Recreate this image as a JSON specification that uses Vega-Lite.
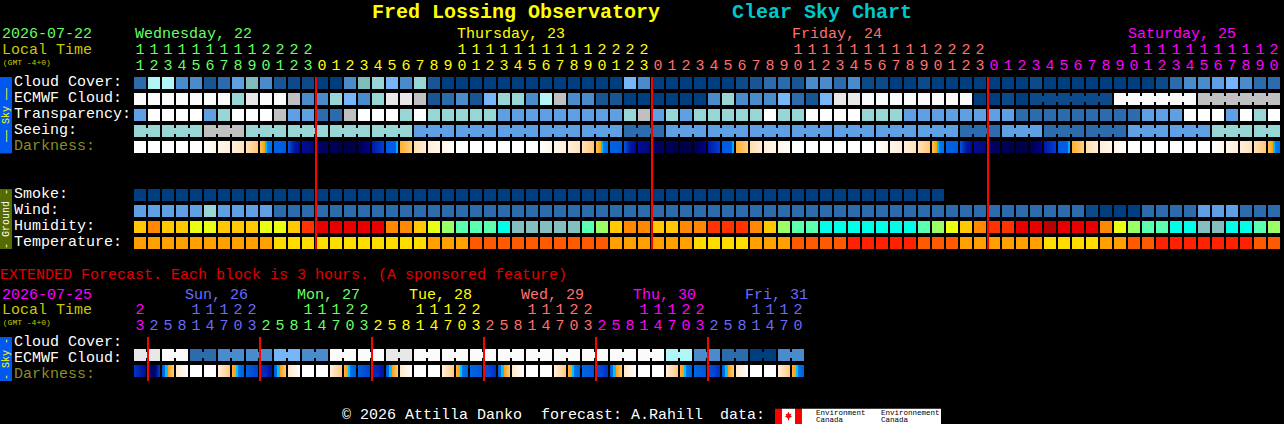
{"$schema":"https://vega.github.io/schema/vega-lite/v6.json","width":1284,"height":424,"padding":0,"autosize":"none","background":"#000000","view":{"stroke":null},
"datasets":{
"panels":[{"c":-10,"c2":-9.143,"l":4.625,"l2":9.4,"v":"sky"},{"c":-10,"c2":-9.143,"l":11.625,"l2":15.375,"v":"gnd"},{"c":-10,"c2":-9.143,"l":20.875,"l2":23.625,"v":"sky"},{"c":45.357,"c2":45.857,"l":25.36,"l2":26.3125,"v":"red"},{"c":45.857,"c2":46.786,"l":25.36,"l2":26.3125,"v":"W"},{"c":46.786,"c2":47.286,"l":25.36,"l2":26.3125,"v":"red"},{"c":47.286,"c2":57.214,"l":25.36,"l2":26.3125,"v":"W"}],
"rules":[{"c":12.5714,"l":4.625,"l2":15.375,"v":"red"},{"c":36.5714,"l":4.625,"l2":15.375,"v":"red"},{"c":60.5714,"l":4.625,"l2":15.375,"v":"red"},{"c":0.5714,"l":20.875,"l2":23.625,"v":"red"},{"c":8.5714,"l":20.875,"l2":23.625,"v":"red"},{"c":16.5714,"l":20.875,"l2":23.625,"v":"red"},{"c":24.5714,"l":20.875,"l2":23.625,"v":"red"},{"c":32.5714,"l":20.875,"l2":23.625,"v":"red"},{"c":40.5714,"l":20.875,"l2":23.625,"v":"red"}],
"blocks":[
{"c":0,"l":5,"v":"C"},{"c":1,"l":5,"v":"I"},{"c":2,"l":5,"v":"I"},{"c":3,"l":5,"v":"D"},{"c":4,"l":5,"v":"D"},{"c":5,"l":5,"v":"B"},{"c":6,"l":5,"v":"C"},{"c":7,"l":5,"v":"E"},{"c":8,"l":5,"v":"G"},{"c":9,"l":5,"v":"D"},{"c":10,"l":5,"v":"B"},{"c":11,"l":5,"v":"Z"},{"c":12,"l":5,"v":"Z"},{"c":13,"l":5,"v":"A"},{"c":14,"l":5,"v":"A"},{"c":15,"l":5,"v":"D"},{"c":16,"l":5,"v":"G"},{"c":17,"l":5,"v":"H"},{"c":18,"l":5,"v":"F"},{"c":19,"l":5,"v":"D"},{"c":20,"l":5,"v":"H"},{"c":21,"l":5,"v":"B"},{"c":22,"l":5,"v":"A"},{"c":23,"l":5,"v":"A"},{"c":24,"l":5,"v":"A"},{"c":25,"l":5,"v":"A"},{"c":26,"l":5,"v":"A"},{"c":27,"l":5,"v":"A"},{"c":28,"l":5,"v":"A"},{"c":29,"l":5,"v":"A"},{"c":30,"l":5,"v":"A"},{"c":31,"l":5,"v":"A"},{"c":32,"l":5,"v":"A"},{"c":33,"l":5,"v":"A"},{"c":34,"l":5,"v":"A"},{"c":35,"l":5,"v":"F"},{"c":36,"l":5,"v":"D"},{"c":37,"l":5,"v":"A"},{"c":38,"l":5,"v":"A"},{"c":39,"l":5,"v":"A"},{"c":40,"l":5,"v":"A"},{"c":41,"l":5,"v":"A"},{"c":42,"l":5,"v":"A"},{"c":43,"l":5,"v":"Z"},{"c":44,"l":5,"v":"B"},{"c":45,"l":5,"v":"C"},{"c":46,"l":5,"v":"C"},{"c":47,"l":5,"v":"B"},{"c":48,"l":5,"v":"D"},{"c":49,"l":5,"v":"D"},{"c":50,"l":5,"v":"C"},{"c":51,"l":5,"v":"D"},{"c":52,"l":5,"v":"Z"},{"c":53,"l":5,"v":"Z"},{"c":54,"l":5,"v":"A"},{"c":55,"l":5,"v":"A"},{"c":56,"l":5,"v":"Z"},{"c":57,"l":5,"v":"A"},{"c":58,"l":5,"v":"A"},{"c":59,"l":5,"v":"A"},{"c":60,"l":5,"v":"A"},{"c":61,"l":5,"v":"A"},{"c":62,"l":5,"v":"A"},{"c":63,"l":5,"v":"A"},{"c":64,"l":5,"v":"Z"},{"c":65,"l":5,"v":"A"},{"c":66,"l":5,"v":"A"},{"c":67,"l":5,"v":"A"},{"c":68,"l":5,"v":"A"},{"c":69,"l":5,"v":"A"},{"c":70,"l":5,"v":"A"},{"c":71,"l":5,"v":"A"},{"c":72,"l":5,"v":"A"},{"c":73,"l":5,"v":"Z"},{"c":74,"l":5,"v":"C"},{"c":75,"l":5,"v":"D"},{"c":76,"l":5,"v":"D"},{"c":77,"l":5,"v":"E"},{"c":78,"l":5,"v":"F"},{"c":79,"l":5,"v":"D"},{"c":80,"l":5,"v":"C"},{"c":81,"l":5,"v":"C"},
{"c":0,"l":6,"v":"w"},{"c":1,"l":6,"v":"w"},{"c":2,"l":6,"v":"w"},{"c":3,"l":6,"v":"w"},{"c":4,"l":6,"v":"w"},{"c":5,"l":6,"v":"w"},{"c":6,"l":6,"v":"w"},{"c":7,"l":6,"v":"H"},{"c":8,"l":6,"v":"K"},{"c":9,"l":6,"v":"w"},{"c":10,"l":6,"v":"w"},{"c":11,"l":6,"v":"J"},{"c":12,"l":6,"v":"D"},{"c":13,"l":6,"v":"D"},{"c":14,"l":6,"v":"H"},{"c":15,"l":6,"v":"F"},{"c":16,"l":6,"v":"D"},{"c":17,"l":6,"v":"H"},{"c":18,"l":6,"v":"K"},{"c":19,"l":6,"v":"K"},{"c":20,"l":6,"v":"J"},{"c":21,"l":6,"v":"B"},{"c":22,"l":6,"v":"C"},{"c":23,"l":6,"v":"D"},{"c":24,"l":6,"v":"B"},{"c":25,"l":6,"v":"F"},{"c":26,"l":6,"v":"H"},{"c":27,"l":6,"v":"H"},{"c":28,"l":6,"v":"D"},{"c":29,"l":6,"v":"I"},{"c":30,"l":6,"v":"J"},{"c":31,"l":6,"v":"D"},{"c":32,"l":6,"v":"D"},{"c":33,"l":6,"v":"B"},{"c":34,"l":6,"v":"B"},{"c":35,"l":6,"v":"A"},{"c":36,"l":6,"v":"A"},{"c":37,"l":6,"v":"A"},{"c":38,"l":6,"v":"A"},{"c":39,"l":6,"v":"A"},{"c":40,"l":6,"v":"A"},{"c":41,"l":6,"v":"D"},{"c":42,"l":6,"v":"H"},{"c":43,"l":6,"v":"D"},{"c":44,"l":6,"v":"D"},{"c":45,"l":6,"v":"D"},{"c":46,"l":6,"v":"F"},{"c":47,"l":6,"v":"C"},{"c":48,"l":6,"v":"B"},{"c":49,"l":6,"v":"F"},{"c":50,"l":6,"v":"K"},{"c":51,"l":6,"v":"K"},{"c":52,"l":6,"v":"w"},{"c":53,"l":6,"v":"w"},{"c":54,"l":6,"v":"w"},{"c":55,"l":6,"v":"w"},{"c":56,"l":6,"v":"w"},{"c":57,"l":6,"v":"w"},{"c":58,"l":6,"v":"w"},{"c":59,"l":6,"v":"w"},{"c":60,"l":6,"v":"A"},{"c":61,"l":6,"v":"A"},{"c":62,"l":6,"v":"Z"},{"c":63,"l":6,"v":"A"},{"c":64,"l":6,"v":"Z"},{"c":65,"l":6,"v":"Z"},{"c":66,"l":6,"v":"Z"},{"c":67,"l":6,"v":"Z"},{"c":68,"l":6,"v":"Z"},{"c":69,"l":6,"v":"Z"},{"c":70,"l":6,"v":"w"},{"c":71,"l":6,"v":"w"},{"c":72,"l":6,"v":"w"},{"c":73,"l":6,"v":"w"},{"c":74,"l":6,"v":"w"},{"c":75,"l":6,"v":"w"},{"c":76,"l":6,"v":"J"},{"c":77,"l":6,"v":"J"},{"c":78,"l":6,"v":"J"},{"c":79,"l":6,"v":"J"},{"c":80,"l":6,"v":"J"},{"c":81,"l":6,"v":"J"},
{"c":0,"l":7,"v":"E"},{"c":1,"l":7,"v":"W"},{"c":2,"l":7,"v":"W"},{"c":3,"l":7,"v":"W"},{"c":4,"l":7,"v":"W"},{"c":5,"l":7,"v":"E"},{"c":6,"l":7,"v":"H"},{"c":7,"l":7,"v":"W"},{"c":8,"l":7,"v":"W"},{"c":9,"l":7,"v":"W"},{"c":10,"l":7,"v":"J"},{"c":11,"l":7,"v":"E"},{"c":12,"l":7,"v":"E"},{"c":13,"l":7,"v":"C"},{"c":14,"l":7,"v":"C"},{"c":15,"l":7,"v":"J"},{"c":16,"l":7,"v":"W"},{"c":17,"l":7,"v":"W"},{"c":18,"l":7,"v":"W"},{"c":19,"l":7,"v":"H"},{"c":20,"l":7,"v":"W"},{"c":21,"l":7,"v":"H"},{"c":22,"l":7,"v":"H"},{"c":23,"l":7,"v":"H"},{"c":24,"l":7,"v":"H"},{"c":25,"l":7,"v":"H"},{"c":26,"l":7,"v":"E"},{"c":27,"l":7,"v":"E"},{"c":28,"l":7,"v":"E"},{"c":29,"l":7,"v":"E"},{"c":30,"l":7,"v":"E"},{"c":31,"l":7,"v":"E"},{"c":32,"l":7,"v":"E"},{"c":33,"l":7,"v":"E"},{"c":34,"l":7,"v":"E"},{"c":35,"l":7,"v":"H"},{"c":36,"l":7,"v":"J"},{"c":37,"l":7,"v":"E"},{"c":38,"l":7,"v":"H"},{"c":39,"l":7,"v":"E"},{"c":40,"l":7,"v":"H"},{"c":41,"l":7,"v":"H"},{"c":42,"l":7,"v":"H"},{"c":43,"l":7,"v":"H"},{"c":44,"l":7,"v":"H"},{"c":45,"l":7,"v":"W"},{"c":46,"l":7,"v":"H"},{"c":47,"l":7,"v":"H"},{"c":48,"l":7,"v":"W"},{"c":49,"l":7,"v":"W"},{"c":50,"l":7,"v":"W"},{"c":51,"l":7,"v":"W"},{"c":52,"l":7,"v":"H"},{"c":53,"l":7,"v":"H"},{"c":54,"l":7,"v":"H"},{"c":55,"l":7,"v":"E"},{"c":56,"l":7,"v":"E"},{"c":57,"l":7,"v":"E"},{"c":58,"l":7,"v":"E"},{"c":59,"l":7,"v":"E"},{"c":60,"l":7,"v":"E"},{"c":61,"l":7,"v":"E"},{"c":62,"l":7,"v":"E"},{"c":63,"l":7,"v":"C"},{"c":64,"l":7,"v":"C"},{"c":65,"l":7,"v":"C"},{"c":66,"l":7,"v":"C"},{"c":67,"l":7,"v":"C"},{"c":68,"l":7,"v":"C"},{"c":69,"l":7,"v":"C"},{"c":70,"l":7,"v":"C"},{"c":71,"l":7,"v":"C"},{"c":72,"l":7,"v":"E"},{"c":73,"l":7,"v":"E"},{"c":74,"l":7,"v":"E"},{"c":75,"l":7,"v":"W"},{"c":76,"l":7,"v":"W"},{"c":77,"l":7,"v":"W"},{"c":78,"l":7,"v":"E"},{"c":79,"l":7,"v":"W"},{"c":80,"l":7,"v":"H"},{"c":81,"l":7,"v":"W"},
{"c":0,"l":8,"v":"H"},{"c":1,"l":8,"v":"H"},{"c":2,"l":8,"v":"H"},{"c":3,"l":8,"v":"H"},{"c":4,"l":8,"v":"H"},{"c":5,"l":8,"v":"J"},{"c":6,"l":8,"v":"J"},{"c":7,"l":8,"v":"J"},{"c":8,"l":8,"v":"H"},{"c":9,"l":8,"v":"H"},{"c":10,"l":8,"v":"H"},{"c":11,"l":8,"v":"H"},{"c":12,"l":8,"v":"H"},{"c":13,"l":8,"v":"H"},{"c":14,"l":8,"v":"H"},{"c":15,"l":8,"v":"H"},{"c":16,"l":8,"v":"H"},{"c":17,"l":8,"v":"H"},{"c":18,"l":8,"v":"H"},{"c":19,"l":8,"v":"H"},{"c":20,"l":8,"v":"E"},{"c":21,"l":8,"v":"E"},{"c":22,"l":8,"v":"E"},{"c":23,"l":8,"v":"E"},{"c":24,"l":8,"v":"E"},{"c":25,"l":8,"v":"E"},{"c":26,"l":8,"v":"E"},{"c":27,"l":8,"v":"E"},{"c":28,"l":8,"v":"E"},{"c":29,"l":8,"v":"E"},{"c":30,"l":8,"v":"E"},{"c":31,"l":8,"v":"E"},{"c":32,"l":8,"v":"E"},{"c":33,"l":8,"v":"E"},{"c":34,"l":8,"v":"E"},{"c":35,"l":8,"v":"C"},{"c":36,"l":8,"v":"C"},{"c":37,"l":8,"v":"C"},{"c":38,"l":8,"v":"E"},{"c":39,"l":8,"v":"E"},{"c":40,"l":8,"v":"E"},{"c":41,"l":8,"v":"E"},{"c":42,"l":8,"v":"E"},{"c":43,"l":8,"v":"E"},{"c":44,"l":8,"v":"E"},{"c":45,"l":8,"v":"E"},{"c":46,"l":8,"v":"E"},{"c":47,"l":8,"v":"E"},{"c":48,"l":8,"v":"E"},{"c":49,"l":8,"v":"E"},{"c":50,"l":8,"v":"E"},{"c":51,"l":8,"v":"E"},{"c":52,"l":8,"v":"E"},{"c":53,"l":8,"v":"E"},{"c":54,"l":8,"v":"E"},{"c":55,"l":8,"v":"E"},{"c":56,"l":8,"v":"E"},{"c":57,"l":8,"v":"E"},{"c":58,"l":8,"v":"E"},{"c":59,"l":8,"v":"C"},{"c":60,"l":8,"v":"C"},{"c":61,"l":8,"v":"C"},{"c":62,"l":8,"v":"E"},{"c":63,"l":8,"v":"E"},{"c":64,"l":8,"v":"E"},{"c":65,"l":8,"v":"C"},{"c":66,"l":8,"v":"C"},{"c":67,"l":8,"v":"C"},{"c":68,"l":8,"v":"C"},{"c":69,"l":8,"v":"C"},{"c":70,"l":8,"v":"C"},{"c":71,"l":8,"v":"E"},{"c":72,"l":8,"v":"E"},{"c":73,"l":8,"v":"E"},{"c":74,"l":8,"v":"E"},{"c":75,"l":8,"v":"E"},{"c":76,"l":8,"v":"E"},{"c":77,"l":8,"v":"H"},{"c":78,"l":8,"v":"H"},{"c":79,"l":8,"v":"H"},{"c":80,"l":8,"v":"H"},{"c":81,"l":8,"v":"H"},
{"c":0,"l":9,"v":"W"},{"c":1,"l":9,"v":"W"},{"c":2,"l":9,"v":"W"},{"c":3,"l":9,"v":"W"},{"c":4,"l":9,"v":"W"},{"c":5,"l":9,"v":"d5"},{"c":6,"l":9,"v":"d6"},{"c":7,"l":9,"v":"d7"},{"c":8,"l":9,"v":"d8"},{"c":9,"l":9,"v":"d9"},{"c":10,"l":9,"v":"d10"},{"c":11,"l":9,"v":"d11"},{"c":12,"l":9,"v":"d12"},{"c":13,"l":9,"v":"d13"},{"c":14,"l":9,"v":"d14"},{"c":15,"l":9,"v":"d15"},{"c":16,"l":9,"v":"d16"},{"c":17,"l":9,"v":"d17"},{"c":18,"l":9,"v":"d18"},{"c":19,"l":9,"v":"d19"},{"c":20,"l":9,"v":"d20"},{"c":21,"l":9,"v":"d21"},{"c":22,"l":9,"v":"d22"},{"c":23,"l":9,"v":"W"},{"c":24,"l":9,"v":"W"},{"c":25,"l":9,"v":"W"},{"c":26,"l":9,"v":"W"},{"c":27,"l":9,"v":"W"},{"c":28,"l":9,"v":"W"},{"c":29,"l":9,"v":"d5"},{"c":30,"l":9,"v":"d6"},{"c":31,"l":9,"v":"d7"},{"c":32,"l":9,"v":"d8"},{"c":33,"l":9,"v":"d9"},{"c":34,"l":9,"v":"d10"},{"c":35,"l":9,"v":"d11"},{"c":36,"l":9,"v":"d12"},{"c":37,"l":9,"v":"d13"},{"c":38,"l":9,"v":"d14"},{"c":39,"l":9,"v":"d15"},{"c":40,"l":9,"v":"d16"},{"c":41,"l":9,"v":"d17"},{"c":42,"l":9,"v":"d18"},{"c":43,"l":9,"v":"d19"},{"c":44,"l":9,"v":"d20"},{"c":45,"l":9,"v":"d21"},{"c":46,"l":9,"v":"d22"},{"c":47,"l":9,"v":"W"},{"c":48,"l":9,"v":"W"},{"c":49,"l":9,"v":"W"},{"c":50,"l":9,"v":"W"},{"c":51,"l":9,"v":"W"},{"c":52,"l":9,"v":"W"},{"c":53,"l":9,"v":"d5"},{"c":54,"l":9,"v":"d6"},{"c":55,"l":9,"v":"d7"},{"c":56,"l":9,"v":"d8"},{"c":57,"l":9,"v":"d9"},{"c":58,"l":9,"v":"d10"},{"c":59,"l":9,"v":"d11"},{"c":60,"l":9,"v":"d12"},{"c":61,"l":9,"v":"d13"},{"c":62,"l":9,"v":"d14"},{"c":63,"l":9,"v":"d15"},{"c":64,"l":9,"v":"d16"},{"c":65,"l":9,"v":"d17"},{"c":66,"l":9,"v":"d18"},{"c":67,"l":9,"v":"d19"},{"c":68,"l":9,"v":"d20"},{"c":69,"l":9,"v":"d21"},{"c":70,"l":9,"v":"d22"},{"c":71,"l":9,"v":"W"},{"c":72,"l":9,"v":"W"},{"c":73,"l":9,"v":"W"},{"c":74,"l":9,"v":"W"},{"c":75,"l":9,"v":"W"},{"c":76,"l":9,"v":"W"},{"c":77,"l":9,"v":"d5"},{"c":78,"l":9,"v":"d6"},{"c":79,"l":9,"v":"d7"},{"c":80,"l":9,"v":"d8"},{"c":81,"l":9,"v":"d9"},
{"c":0,"l":12,"v":"A"},{"c":1,"l":12,"v":"A"},{"c":2,"l":12,"v":"A"},{"c":3,"l":12,"v":"A"},{"c":4,"l":12,"v":"A"},{"c":5,"l":12,"v":"A"},{"c":6,"l":12,"v":"A"},{"c":7,"l":12,"v":"A"},{"c":8,"l":12,"v":"A"},{"c":9,"l":12,"v":"A"},{"c":10,"l":12,"v":"A"},{"c":11,"l":12,"v":"A"},{"c":12,"l":12,"v":"A"},{"c":13,"l":12,"v":"A"},{"c":14,"l":12,"v":"A"},{"c":15,"l":12,"v":"A"},{"c":16,"l":12,"v":"A"},{"c":17,"l":12,"v":"A"},{"c":18,"l":12,"v":"A"},{"c":19,"l":12,"v":"A"},{"c":20,"l":12,"v":"A"},{"c":21,"l":12,"v":"A"},{"c":22,"l":12,"v":"A"},{"c":23,"l":12,"v":"A"},{"c":24,"l":12,"v":"A"},{"c":25,"l":12,"v":"A"},{"c":26,"l":12,"v":"A"},{"c":27,"l":12,"v":"A"},{"c":28,"l":12,"v":"A"},{"c":29,"l":12,"v":"A"},{"c":30,"l":12,"v":"A"},{"c":31,"l":12,"v":"A"},{"c":32,"l":12,"v":"A"},{"c":33,"l":12,"v":"A"},{"c":34,"l":12,"v":"A"},{"c":35,"l":12,"v":"A"},{"c":36,"l":12,"v":"A"},{"c":37,"l":12,"v":"A"},{"c":38,"l":12,"v":"A"},{"c":39,"l":12,"v":"A"},{"c":40,"l":12,"v":"A"},{"c":41,"l":12,"v":"A"},{"c":42,"l":12,"v":"A"},{"c":43,"l":12,"v":"A"},{"c":44,"l":12,"v":"A"},{"c":45,"l":12,"v":"A"},{"c":46,"l":12,"v":"A"},{"c":47,"l":12,"v":"A"},{"c":48,"l":12,"v":"A"},{"c":49,"l":12,"v":"A"},{"c":50,"l":12,"v":"A"},{"c":51,"l":12,"v":"A"},{"c":52,"l":12,"v":"A"},{"c":53,"l":12,"v":"A"},{"c":54,"l":12,"v":"A"},{"c":55,"l":12,"v":"A"},{"c":56,"l":12,"v":"A"},{"c":57,"l":12,"v":"A"},
{"c":0,"l":13,"v":"E"},{"c":1,"l":13,"v":"E"},{"c":2,"l":13,"v":"E"},{"c":3,"l":13,"v":"E"},{"c":4,"l":13,"v":"E"},{"c":5,"l":13,"v":"H"},{"c":6,"l":13,"v":"E"},{"c":7,"l":13,"v":"E"},{"c":8,"l":13,"v":"E"},{"c":9,"l":13,"v":"E"},{"c":10,"l":13,"v":"C"},{"c":11,"l":13,"v":"C"},{"c":12,"l":13,"v":"C"},{"c":13,"l":13,"v":"C"},{"c":14,"l":13,"v":"C"},{"c":15,"l":13,"v":"C"},{"c":16,"l":13,"v":"C"},{"c":17,"l":13,"v":"C"},{"c":18,"l":13,"v":"C"},{"c":19,"l":13,"v":"C"},{"c":20,"l":13,"v":"C"},{"c":21,"l":13,"v":"C"},{"c":22,"l":13,"v":"C"},{"c":23,"l":13,"v":"C"},{"c":24,"l":13,"v":"C"},{"c":25,"l":13,"v":"C"},{"c":26,"l":13,"v":"C"},{"c":27,"l":13,"v":"C"},{"c":28,"l":13,"v":"C"},{"c":29,"l":13,"v":"C"},{"c":30,"l":13,"v":"C"},{"c":31,"l":13,"v":"C"},{"c":32,"l":13,"v":"C"},{"c":33,"l":13,"v":"C"},{"c":34,"l":13,"v":"C"},{"c":35,"l":13,"v":"C"},{"c":36,"l":13,"v":"C"},{"c":37,"l":13,"v":"C"},{"c":38,"l":13,"v":"C"},{"c":39,"l":13,"v":"C"},{"c":40,"l":13,"v":"C"},{"c":41,"l":13,"v":"C"},{"c":42,"l":13,"v":"C"},{"c":43,"l":13,"v":"C"},{"c":44,"l":13,"v":"C"},{"c":45,"l":13,"v":"C"},{"c":46,"l":13,"v":"C"},{"c":47,"l":13,"v":"C"},{"c":48,"l":13,"v":"C"},{"c":49,"l":13,"v":"C"},{"c":50,"l":13,"v":"C"},{"c":51,"l":13,"v":"C"},{"c":52,"l":13,"v":"C"},{"c":53,"l":13,"v":"C"},{"c":54,"l":13,"v":"C"},{"c":55,"l":13,"v":"C"},{"c":56,"l":13,"v":"C"},{"c":57,"l":13,"v":"C"},{"c":58,"l":13,"v":"C"},{"c":59,"l":13,"v":"C"},{"c":60,"l":13,"v":"C"},{"c":61,"l":13,"v":"C"},{"c":62,"l":13,"v":"C"},{"c":63,"l":13,"v":"C"},{"c":64,"l":13,"v":"C"},{"c":65,"l":13,"v":"C"},{"c":66,"l":13,"v":"C"},{"c":67,"l":13,"v":"C"},{"c":68,"l":13,"v":"Z"},{"c":69,"l":13,"v":"A"},{"c":70,"l":13,"v":"A"},{"c":71,"l":13,"v":"A"},{"c":72,"l":13,"v":"C"},{"c":73,"l":13,"v":"C"},{"c":74,"l":13,"v":"C"},{"c":75,"l":13,"v":"C"},{"c":76,"l":13,"v":"E"},{"c":77,"l":13,"v":"E"},{"c":78,"l":13,"v":"E"},{"c":79,"l":13,"v":"C"},{"c":80,"l":13,"v":"C"},{"c":81,"l":13,"v":"C"},
{"c":0,"l":14,"v":"hY"},{"c":1,"l":14,"v":"hO"},{"c":2,"l":14,"v":"hY"},{"c":3,"l":14,"v":"hY"},{"c":4,"l":14,"v":"hL"},{"c":5,"l":14,"v":"hL"},{"c":6,"l":14,"v":"hY"},{"c":7,"l":14,"v":"hY"},{"c":8,"l":14,"v":"hY"},{"c":9,"l":14,"v":"hL"},{"c":10,"l":14,"v":"hL"},{"c":11,"l":14,"v":"hY"},{"c":12,"l":14,"v":"h3"},{"c":13,"l":14,"v":"h2"},{"c":14,"l":14,"v":"h2"},{"c":15,"l":14,"v":"h2"},{"c":16,"l":14,"v":"h2"},{"c":17,"l":14,"v":"h2"},{"c":18,"l":14,"v":"hO"},{"c":19,"l":14,"v":"hO"},{"c":20,"l":14,"v":"hY"},{"c":21,"l":14,"v":"hL"},{"c":22,"l":14,"v":"hG"},{"c":23,"l":14,"v":"hT"},{"c":24,"l":14,"v":"hT"},{"c":25,"l":14,"v":"hT"},{"c":26,"l":14,"v":"hN"},{"c":27,"l":14,"v":"hX"},{"c":28,"l":14,"v":"hX"},{"c":29,"l":14,"v":"hX"},{"c":30,"l":14,"v":"hX"},{"c":31,"l":14,"v":"hX"},{"c":32,"l":14,"v":"hT"},{"c":33,"l":14,"v":"hG"},{"c":34,"l":14,"v":"hY"},{"c":35,"l":14,"v":"hO"},{"c":36,"l":14,"v":"hO"},{"c":37,"l":14,"v":"hY"},{"c":38,"l":14,"v":"hY"},{"c":39,"l":14,"v":"hO"},{"c":40,"l":14,"v":"hO"},{"c":41,"l":14,"v":"h3"},{"c":42,"l":14,"v":"h3"},{"c":43,"l":14,"v":"h3"},{"c":44,"l":14,"v":"hO"},{"c":45,"l":14,"v":"hY"},{"c":46,"l":14,"v":"hG"},{"c":47,"l":14,"v":"hT"},{"c":48,"l":14,"v":"hT"},{"c":49,"l":14,"v":"hN"},{"c":50,"l":14,"v":"hN"},{"c":51,"l":14,"v":"hN"},{"c":52,"l":14,"v":"hN"},{"c":53,"l":14,"v":"hN"},{"c":54,"l":14,"v":"hN"},{"c":55,"l":14,"v":"hN"},{"c":56,"l":14,"v":"hT"},{"c":57,"l":14,"v":"hG"},{"c":58,"l":14,"v":"hL"},{"c":59,"l":14,"v":"hY"},{"c":60,"l":14,"v":"hO"},{"c":61,"l":14,"v":"h3"},{"c":62,"l":14,"v":"h3"},{"c":63,"l":14,"v":"h2"},{"c":64,"l":14,"v":"h2"},{"c":65,"l":14,"v":"h1"},{"c":66,"l":14,"v":"h2"},{"c":67,"l":14,"v":"h2"},{"c":68,"l":14,"v":"h2"},{"c":69,"l":14,"v":"hO"},{"c":70,"l":14,"v":"hL"},{"c":71,"l":14,"v":"hG"},{"c":72,"l":14,"v":"hT"},{"c":73,"l":14,"v":"hT"},{"c":74,"l":14,"v":"hN"},{"c":75,"l":14,"v":"hN"},{"c":76,"l":14,"v":"hX"},{"c":77,"l":14,"v":"hX"},{"c":78,"l":14,"v":"hN"},{"c":79,"l":14,"v":"hN"},{"c":80,"l":14,"v":"hT"},{"c":81,"l":14,"v":"hG"},
{"c":0,"l":15,"v":"tO"},{"c":1,"l":15,"v":"tO"},{"c":2,"l":15,"v":"tO"},{"c":3,"l":15,"v":"tO"},{"c":4,"l":15,"v":"tO"},{"c":5,"l":15,"v":"tO"},{"c":6,"l":15,"v":"tO"},{"c":7,"l":15,"v":"tO"},{"c":8,"l":15,"v":"tO"},{"c":9,"l":15,"v":"tO"},{"c":10,"l":15,"v":"tY"},{"c":11,"l":15,"v":"tY"},{"c":12,"l":15,"v":"tY"},{"c":13,"l":15,"v":"tY"},{"c":14,"l":15,"v":"tY"},{"c":15,"l":15,"v":"tY"},{"c":16,"l":15,"v":"tY"},{"c":17,"l":15,"v":"tY"},{"c":18,"l":15,"v":"tY"},{"c":19,"l":15,"v":"tY"},{"c":20,"l":15,"v":"tY"},{"c":21,"l":15,"v":"tO"},{"c":22,"l":15,"v":"tO"},{"c":23,"l":15,"v":"tO"},{"c":24,"l":15,"v":"tD"},{"c":25,"l":15,"v":"tD"},{"c":26,"l":15,"v":"tD"},{"c":27,"l":15,"v":"tD"},{"c":28,"l":15,"v":"tD"},{"c":29,"l":15,"v":"tD"},{"c":30,"l":15,"v":"tD"},{"c":31,"l":15,"v":"tD"},{"c":32,"l":15,"v":"tD"},{"c":33,"l":15,"v":"tD"},{"c":34,"l":15,"v":"tO"},{"c":35,"l":15,"v":"tO"},{"c":36,"l":15,"v":"tO"},{"c":37,"l":15,"v":"tO"},{"c":38,"l":15,"v":"tO"},{"c":39,"l":15,"v":"tO"},{"c":40,"l":15,"v":"tY"},{"c":41,"l":15,"v":"tY"},{"c":42,"l":15,"v":"tY"},{"c":43,"l":15,"v":"tY"},{"c":44,"l":15,"v":"tO"},{"c":45,"l":15,"v":"tO"},{"c":46,"l":15,"v":"tO"},{"c":47,"l":15,"v":"tD"},{"c":48,"l":15,"v":"tD"},{"c":49,"l":15,"v":"tD"},{"c":50,"l":15,"v":"tD"},{"c":51,"l":15,"v":"tR"},{"c":52,"l":15,"v":"tR"},{"c":53,"l":15,"v":"tR"},{"c":54,"l":15,"v":"tR"},{"c":55,"l":15,"v":"tR"},{"c":56,"l":15,"v":"tD"},{"c":57,"l":15,"v":"tD"},{"c":58,"l":15,"v":"tD"},{"c":59,"l":15,"v":"tO"},{"c":60,"l":15,"v":"tO"},{"c":61,"l":15,"v":"tO"},{"c":62,"l":15,"v":"tO"},{"c":63,"l":15,"v":"tO"},{"c":64,"l":15,"v":"tO"},{"c":65,"l":15,"v":"tY"},{"c":66,"l":15,"v":"tY"},{"c":67,"l":15,"v":"tY"},{"c":68,"l":15,"v":"tY"},{"c":69,"l":15,"v":"tO"},{"c":70,"l":15,"v":"tO"},{"c":71,"l":15,"v":"tD"},{"c":72,"l":15,"v":"tD"},{"c":73,"l":15,"v":"tR"},{"c":74,"l":15,"v":"tR"},{"c":75,"l":15,"v":"tR"},{"c":76,"l":15,"v":"tR"},{"c":77,"l":15,"v":"tR"},{"c":78,"l":15,"v":"tR"},{"c":79,"l":15,"v":"tR"},{"c":80,"l":15,"v":"tD"},{"c":81,"l":15,"v":"tD"},
{"c":0,"l":22,"v":"K"},{"c":1,"l":22,"v":"K"},{"c":2,"l":22,"v":"w"},{"c":3,"l":22,"v":"w"},{"c":4,"l":22,"v":"C"},{"c":5,"l":22,"v":"C"},{"c":6,"l":22,"v":"D"},{"c":7,"l":22,"v":"D"},{"c":8,"l":22,"v":"D"},{"c":9,"l":22,"v":"D"},{"c":10,"l":22,"v":"F"},{"c":11,"l":22,"v":"F"},{"c":12,"l":22,"v":"D"},{"c":13,"l":22,"v":"D"},{"c":14,"l":22,"v":"w"},{"c":15,"l":22,"v":"w"},{"c":16,"l":22,"v":"w"},{"c":17,"l":22,"v":"w"},{"c":18,"l":22,"v":"K"},{"c":19,"l":22,"v":"K"},{"c":20,"l":22,"v":"w"},{"c":21,"l":22,"v":"w"},{"c":22,"l":22,"v":"w"},{"c":23,"l":22,"v":"w"},{"c":24,"l":22,"v":"w"},{"c":25,"l":22,"v":"w"},{"c":26,"l":22,"v":"w"},{"c":27,"l":22,"v":"w"},{"c":28,"l":22,"v":"w"},{"c":29,"l":22,"v":"w"},{"c":30,"l":22,"v":"w"},{"c":31,"l":22,"v":"w"},{"c":32,"l":22,"v":"w"},{"c":33,"l":22,"v":"w"},{"c":34,"l":22,"v":"w"},{"c":35,"l":22,"v":"w"},{"c":36,"l":22,"v":"w"},{"c":37,"l":22,"v":"w"},{"c":38,"l":22,"v":"I"},{"c":39,"l":22,"v":"I"},{"c":40,"l":22,"v":"D"},{"c":41,"l":22,"v":"D"},{"c":42,"l":22,"v":"C"},{"c":43,"l":22,"v":"C"},{"c":44,"l":22,"v":"A"},{"c":45,"l":22,"v":"A"},{"c":46,"l":22,"v":"D"},{"c":47,"l":22,"v":"D"},
{"c":0,"l":23,"v":"e0"},{"c":1,"l":23,"v":"e1"},{"c":2,"l":23,"v":"e2"},{"c":3,"l":23,"v":"e3"},{"c":4,"l":23,"v":"W"},{"c":5,"l":23,"v":"W"},{"c":6,"l":23,"v":"e6"},{"c":7,"l":23,"v":"e7"},{"c":8,"l":23,"v":"e8"},{"c":9,"l":23,"v":"e9"},{"c":10,"l":23,"v":"e2"},{"c":11,"l":23,"v":"e3"},{"c":12,"l":23,"v":"W"},{"c":13,"l":23,"v":"W"},{"c":14,"l":23,"v":"e6"},{"c":15,"l":23,"v":"e7"},{"c":16,"l":23,"v":"e8"},{"c":17,"l":23,"v":"e9"},{"c":18,"l":23,"v":"e2"},{"c":19,"l":23,"v":"e3"},{"c":20,"l":23,"v":"W"},{"c":21,"l":23,"v":"W"},{"c":22,"l":23,"v":"e6"},{"c":23,"l":23,"v":"e7"},{"c":24,"l":23,"v":"e24"},{"c":25,"l":23,"v":"e25"},{"c":26,"l":23,"v":"e2"},{"c":27,"l":23,"v":"e3"},{"c":28,"l":23,"v":"W"},{"c":29,"l":23,"v":"W"},{"c":30,"l":23,"v":"e6"},{"c":31,"l":23,"v":"e7"},{"c":32,"l":23,"v":"e24"},{"c":33,"l":23,"v":"e25"},{"c":34,"l":23,"v":"e2"},{"c":35,"l":23,"v":"e3"},{"c":36,"l":23,"v":"W"},{"c":37,"l":23,"v":"W"},{"c":38,"l":23,"v":"e6"},{"c":39,"l":23,"v":"e7"},{"c":40,"l":23,"v":"e24"},{"c":41,"l":23,"v":"e25"},{"c":42,"l":23,"v":"e2"},{"c":43,"l":23,"v":"e3"},{"c":44,"l":23,"v":"W"},{"c":45,"l":23,"v":"W"},{"c":46,"l":23,"v":"e6"},{"c":47,"l":23,"v":"e7"}
],
"joins":[
{"c":0.5,"l":8,"v":"H"},{"c":2.5,"l":8,"v":"H"},{"c":3.5,"l":8,"v":"H"},{"c":5.5,"l":8,"v":"J"},{"c":6.5,"l":8,"v":"J"},{"c":8.5,"l":8,"v":"H"},{"c":9.5,"l":8,"v":"H"},{"c":11.5,"l":8,"v":"H"},{"c":12.5,"l":8,"v":"H"},{"c":14.5,"l":8,"v":"H"},{"c":15.5,"l":8,"v":"H"},{"c":17.5,"l":8,"v":"H"},{"c":18.5,"l":8,"v":"H"},{"c":20.5,"l":8,"v":"E"},{"c":21.5,"l":8,"v":"E"},{"c":23.5,"l":8,"v":"E"},{"c":24.5,"l":8,"v":"E"},{"c":26.5,"l":8,"v":"E"},{"c":27.5,"l":8,"v":"E"},{"c":29.5,"l":8,"v":"E"},{"c":30.5,"l":8,"v":"E"},{"c":32.5,"l":8,"v":"E"},{"c":33.5,"l":8,"v":"E"},{"c":35.5,"l":8,"v":"C"},{"c":36.5,"l":8,"v":"C"},{"c":38.5,"l":8,"v":"E"},{"c":39.5,"l":8,"v":"E"},{"c":41.5,"l":8,"v":"E"},{"c":42.5,"l":8,"v":"E"},{"c":44.5,"l":8,"v":"E"},{"c":45.5,"l":8,"v":"E"},{"c":47.5,"l":8,"v":"E"},{"c":48.5,"l":8,"v":"E"},{"c":50.5,"l":8,"v":"E"},{"c":51.5,"l":8,"v":"E"},{"c":53.5,"l":8,"v":"E"},{"c":54.5,"l":8,"v":"E"},{"c":56.5,"l":8,"v":"E"},{"c":57.5,"l":8,"v":"E"},{"c":59.5,"l":8,"v":"C"},{"c":60.5,"l":8,"v":"C"},{"c":62.5,"l":8,"v":"E"},{"c":63.5,"l":8,"v":"E"},{"c":65.5,"l":8,"v":"C"},{"c":66.5,"l":8,"v":"C"},{"c":68.5,"l":8,"v":"C"},{"c":69.5,"l":8,"v":"C"},{"c":71.5,"l":8,"v":"E"},{"c":72.5,"l":8,"v":"E"},{"c":74.5,"l":8,"v":"E"},{"c":75.5,"l":8,"v":"E"},{"c":77.5,"l":8,"v":"H"},{"c":78.5,"l":8,"v":"H"},{"c":80.5,"l":8,"v":"H"},
{"c":64.5,"l":6,"v":"Z"},{"c":65.5,"l":6,"v":"Z"},{"c":66.5,"l":6,"v":"Z"},{"c":67.5,"l":6,"v":"Z"},{"c":68.5,"l":6,"v":"Z"},{"c":70.5,"l":6,"v":"w"},{"c":71.5,"l":6,"v":"w"},{"c":72.5,"l":6,"v":"w"},{"c":73.5,"l":6,"v":"w"},{"c":74.5,"l":6,"v":"w"},{"c":76.5,"l":6,"v":"J"},{"c":77.5,"l":6,"v":"J"},{"c":78.5,"l":6,"v":"J"},{"c":79.5,"l":6,"v":"J"},{"c":80.5,"l":6,"v":"J"},
{"c":0.5,"l":22,"v":"K"},{"c":2.5,"l":22,"v":"w"},{"c":4.5,"l":22,"v":"C"},{"c":6.5,"l":22,"v":"D"},{"c":8.5,"l":22,"v":"D"},{"c":10.5,"l":22,"v":"F"},{"c":12.5,"l":22,"v":"D"},{"c":14.5,"l":22,"v":"w"},{"c":16.5,"l":22,"v":"w"},{"c":18.5,"l":22,"v":"K"},{"c":20.5,"l":22,"v":"w"},{"c":22.5,"l":22,"v":"w"},{"c":24.5,"l":22,"v":"w"},{"c":26.5,"l":22,"v":"w"},{"c":28.5,"l":22,"v":"w"},{"c":30.5,"l":22,"v":"w"},{"c":32.5,"l":22,"v":"w"},{"c":34.5,"l":22,"v":"w"},{"c":36.5,"l":22,"v":"w"},{"c":38.5,"l":22,"v":"I"},{"c":40.5,"l":22,"v":"D"},{"c":42.5,"l":22,"v":"C"},{"c":44.5,"l":22,"v":"A"},{"c":46.5,"l":22,"v":"D"}
],
"digits":[
{"c":0,"l":3.88,"t":"1","v":"gr"},{"c":1,"l":3.88,"t":"2","v":"gr"},{"c":2,"l":3.88,"t":"3","v":"gr"},{"c":3,"l":3.88,"t":"4","v":"gr"},{"c":4,"l":3.88,"t":"5","v":"gr"},{"c":5,"l":3.88,"t":"6","v":"gr"},{"c":6,"l":3.88,"t":"7","v":"gr"},{"c":7,"l":3.88,"t":"8","v":"gr"},{"c":8,"l":3.88,"t":"9","v":"gr"},{"c":9,"l":3.88,"t":"0","v":"gr"},{"c":10,"l":3.88,"t":"1","v":"gr"},{"c":11,"l":3.88,"t":"2","v":"gr"},{"c":12,"l":3.88,"t":"3","v":"gr"},
{"c":13,"l":3.88,"t":"0","v":"ye"},{"c":14,"l":3.88,"t":"1","v":"ye"},{"c":15,"l":3.88,"t":"2","v":"ye"},{"c":16,"l":3.88,"t":"3","v":"ye"},{"c":17,"l":3.88,"t":"4","v":"ye"},{"c":18,"l":3.88,"t":"5","v":"ye"},{"c":19,"l":3.88,"t":"6","v":"ye"},{"c":20,"l":3.88,"t":"7","v":"ye"},{"c":21,"l":3.88,"t":"8","v":"ye"},{"c":22,"l":3.88,"t":"9","v":"ye"},{"c":23,"l":3.88,"t":"0","v":"ye"},{"c":24,"l":3.88,"t":"1","v":"ye"},{"c":25,"l":3.88,"t":"2","v":"ye"},{"c":26,"l":3.88,"t":"3","v":"ye"},{"c":27,"l":3.88,"t":"4","v":"ye"},{"c":28,"l":3.88,"t":"5","v":"ye"},{"c":29,"l":3.88,"t":"6","v":"ye"},{"c":30,"l":3.88,"t":"7","v":"ye"},{"c":31,"l":3.88,"t":"8","v":"ye"},{"c":32,"l":3.88,"t":"9","v":"ye"},{"c":33,"l":3.88,"t":"0","v":"ye"},{"c":34,"l":3.88,"t":"1","v":"ye"},{"c":35,"l":3.88,"t":"2","v":"ye"},{"c":36,"l":3.88,"t":"3","v":"ye"},
{"c":37,"l":3.88,"t":"0","v":"sa"},{"c":38,"l":3.88,"t":"1","v":"sa"},{"c":39,"l":3.88,"t":"2","v":"sa"},{"c":40,"l":3.88,"t":"3","v":"sa"},{"c":41,"l":3.88,"t":"4","v":"sa"},{"c":42,"l":3.88,"t":"5","v":"sa"},{"c":43,"l":3.88,"t":"6","v":"sa"},{"c":44,"l":3.88,"t":"7","v":"sa"},{"c":45,"l":3.88,"t":"8","v":"sa"},{"c":46,"l":3.88,"t":"9","v":"sa"},{"c":47,"l":3.88,"t":"0","v":"sa"},{"c":48,"l":3.88,"t":"1","v":"sa"},{"c":49,"l":3.88,"t":"2","v":"sa"},{"c":50,"l":3.88,"t":"3","v":"sa"},{"c":51,"l":3.88,"t":"4","v":"sa"},{"c":52,"l":3.88,"t":"5","v":"sa"},{"c":53,"l":3.88,"t":"6","v":"sa"},{"c":54,"l":3.88,"t":"7","v":"sa"},{"c":55,"l":3.88,"t":"8","v":"sa"},{"c":56,"l":3.88,"t":"9","v":"sa"},{"c":57,"l":3.88,"t":"0","v":"sa"},{"c":58,"l":3.88,"t":"1","v":"sa"},{"c":59,"l":3.88,"t":"2","v":"sa"},{"c":60,"l":3.88,"t":"3","v":"sa"},
{"c":61,"l":3.88,"t":"0","v":"ma"},{"c":62,"l":3.88,"t":"1","v":"ma"},{"c":63,"l":3.88,"t":"2","v":"ma"},{"c":64,"l":3.88,"t":"3","v":"ma"},{"c":65,"l":3.88,"t":"4","v":"ma"},{"c":66,"l":3.88,"t":"5","v":"ma"},{"c":67,"l":3.88,"t":"6","v":"ma"},{"c":68,"l":3.88,"t":"7","v":"ma"},{"c":69,"l":3.88,"t":"8","v":"ma"},{"c":70,"l":3.88,"t":"9","v":"ma"},{"c":71,"l":3.88,"t":"0","v":"ma"},{"c":72,"l":3.88,"t":"1","v":"ma"},{"c":73,"l":3.88,"t":"2","v":"ma"},{"c":74,"l":3.88,"t":"3","v":"ma"},{"c":75,"l":3.88,"t":"4","v":"ma"},{"c":76,"l":3.88,"t":"5","v":"ma"},{"c":77,"l":3.88,"t":"6","v":"ma"},{"c":78,"l":3.88,"t":"7","v":"ma"},{"c":79,"l":3.88,"t":"8","v":"ma"},{"c":80,"l":3.88,"t":"9","v":"ma"},{"c":81,"l":3.88,"t":"0","v":"ma"},
{"c":0,"l":2.88,"t":"1","v":"gr"},{"c":1,"l":2.88,"t":"1","v":"gr"},{"c":2,"l":2.88,"t":"1","v":"gr"},{"c":3,"l":2.88,"t":"1","v":"gr"},{"c":4,"l":2.88,"t":"1","v":"gr"},{"c":5,"l":2.88,"t":"1","v":"gr"},{"c":6,"l":2.88,"t":"1","v":"gr"},{"c":7,"l":2.88,"t":"1","v":"gr"},{"c":8,"l":2.88,"t":"1","v":"gr"},{"c":9,"l":2.88,"t":"2","v":"gr"},{"c":10,"l":2.88,"t":"2","v":"gr"},{"c":11,"l":2.88,"t":"2","v":"gr"},{"c":12,"l":2.88,"t":"2","v":"gr"},
{"c":23,"l":2.88,"t":"1","v":"ye"},{"c":24,"l":2.88,"t":"1","v":"ye"},{"c":25,"l":2.88,"t":"1","v":"ye"},{"c":26,"l":2.88,"t":"1","v":"ye"},{"c":27,"l":2.88,"t":"1","v":"ye"},{"c":28,"l":2.88,"t":"1","v":"ye"},{"c":29,"l":2.88,"t":"1","v":"ye"},{"c":30,"l":2.88,"t":"1","v":"ye"},{"c":31,"l":2.88,"t":"1","v":"ye"},{"c":32,"l":2.88,"t":"1","v":"ye"},{"c":33,"l":2.88,"t":"2","v":"ye"},{"c":34,"l":2.88,"t":"2","v":"ye"},{"c":35,"l":2.88,"t":"2","v":"ye"},{"c":36,"l":2.88,"t":"2","v":"ye"},
{"c":47,"l":2.88,"t":"1","v":"sa"},{"c":48,"l":2.88,"t":"1","v":"sa"},{"c":49,"l":2.88,"t":"1","v":"sa"},{"c":50,"l":2.88,"t":"1","v":"sa"},{"c":51,"l":2.88,"t":"1","v":"sa"},{"c":52,"l":2.88,"t":"1","v":"sa"},{"c":53,"l":2.88,"t":"1","v":"sa"},{"c":54,"l":2.88,"t":"1","v":"sa"},{"c":55,"l":2.88,"t":"1","v":"sa"},{"c":56,"l":2.88,"t":"1","v":"sa"},{"c":57,"l":2.88,"t":"2","v":"sa"},{"c":58,"l":2.88,"t":"2","v":"sa"},{"c":59,"l":2.88,"t":"2","v":"sa"},{"c":60,"l":2.88,"t":"2","v":"sa"},
{"c":71,"l":2.88,"t":"1","v":"ma"},{"c":72,"l":2.88,"t":"1","v":"ma"},{"c":73,"l":2.88,"t":"1","v":"ma"},{"c":74,"l":2.88,"t":"1","v":"ma"},{"c":75,"l":2.88,"t":"1","v":"ma"},{"c":76,"l":2.88,"t":"1","v":"ma"},{"c":77,"l":2.88,"t":"1","v":"ma"},{"c":78,"l":2.88,"t":"1","v":"ma"},{"c":79,"l":2.88,"t":"1","v":"ma"},{"c":80,"l":2.88,"t":"1","v":"ma"},{"c":81,"l":2.88,"t":"2","v":"ma"},
{"c":0,"l":20.13,"t":"3","v":"ma"},{"c":1,"l":20.13,"t":"2","v":"vi"},{"c":2,"l":20.13,"t":"5","v":"vi"},{"c":3,"l":20.13,"t":"8","v":"vi"},{"c":4,"l":20.13,"t":"1","v":"vi"},{"c":5,"l":20.13,"t":"4","v":"vi"},{"c":6,"l":20.13,"t":"7","v":"vi"},{"c":7,"l":20.13,"t":"0","v":"vi"},{"c":8,"l":20.13,"t":"3","v":"vi"},{"c":9,"l":20.13,"t":"2","v":"gr"},{"c":10,"l":20.13,"t":"5","v":"gr"},{"c":11,"l":20.13,"t":"8","v":"gr"},{"c":12,"l":20.13,"t":"1","v":"gr"},{"c":13,"l":20.13,"t":"4","v":"gr"},{"c":14,"l":20.13,"t":"7","v":"gr"},{"c":15,"l":20.13,"t":"0","v":"gr"},{"c":16,"l":20.13,"t":"3","v":"gr"},{"c":17,"l":20.13,"t":"2","v":"ye"},{"c":18,"l":20.13,"t":"5","v":"ye"},{"c":19,"l":20.13,"t":"8","v":"ye"},{"c":20,"l":20.13,"t":"1","v":"ye"},{"c":21,"l":20.13,"t":"4","v":"ye"},{"c":22,"l":20.13,"t":"7","v":"ye"},{"c":23,"l":20.13,"t":"0","v":"ye"},{"c":24,"l":20.13,"t":"3","v":"ye"},{"c":25,"l":20.13,"t":"2","v":"sa"},{"c":26,"l":20.13,"t":"5","v":"sa"},{"c":27,"l":20.13,"t":"8","v":"sa"},{"c":28,"l":20.13,"t":"1","v":"sa"},{"c":29,"l":20.13,"t":"4","v":"sa"},{"c":30,"l":20.13,"t":"7","v":"sa"},{"c":31,"l":20.13,"t":"0","v":"sa"},{"c":32,"l":20.13,"t":"3","v":"sa"},{"c":33,"l":20.13,"t":"2","v":"ma"},{"c":34,"l":20.13,"t":"5","v":"ma"},{"c":35,"l":20.13,"t":"8","v":"ma"},{"c":36,"l":20.13,"t":"1","v":"ma"},{"c":37,"l":20.13,"t":"4","v":"ma"},{"c":38,"l":20.13,"t":"7","v":"ma"},{"c":39,"l":20.13,"t":"0","v":"ma"},{"c":40,"l":20.13,"t":"3","v":"ma"},{"c":41,"l":20.13,"t":"2","v":"vi"},{"c":42,"l":20.13,"t":"5","v":"vi"},{"c":43,"l":20.13,"t":"8","v":"vi"},{"c":44,"l":20.13,"t":"1","v":"vi"},{"c":45,"l":20.13,"t":"4","v":"vi"},{"c":46,"l":20.13,"t":"7","v":"vi"},{"c":47,"l":20.13,"t":"0","v":"vi"},
{"c":0,"l":19.13,"t":"2","v":"ma"},{"c":4,"l":19.13,"t":"1","v":"vi"},{"c":5,"l":19.13,"t":"1","v":"vi"},{"c":6,"l":19.13,"t":"1","v":"vi"},{"c":7,"l":19.13,"t":"2","v":"vi"},{"c":8,"l":19.13,"t":"2","v":"vi"},{"c":12,"l":19.13,"t":"1","v":"gr"},{"c":13,"l":19.13,"t":"1","v":"gr"},{"c":14,"l":19.13,"t":"1","v":"gr"},{"c":15,"l":19.13,"t":"2","v":"gr"},{"c":16,"l":19.13,"t":"2","v":"gr"},{"c":20,"l":19.13,"t":"1","v":"ye"},{"c":21,"l":19.13,"t":"1","v":"ye"},{"c":22,"l":19.13,"t":"1","v":"ye"},{"c":23,"l":19.13,"t":"2","v":"ye"},{"c":24,"l":19.13,"t":"2","v":"ye"},{"c":28,"l":19.13,"t":"1","v":"sa"},{"c":29,"l":19.13,"t":"1","v":"sa"},{"c":30,"l":19.13,"t":"1","v":"sa"},{"c":31,"l":19.13,"t":"2","v":"sa"},{"c":32,"l":19.13,"t":"2","v":"sa"},{"c":36,"l":19.13,"t":"1","v":"ma"},{"c":37,"l":19.13,"t":"1","v":"ma"},{"c":38,"l":19.13,"t":"1","v":"ma"},{"c":39,"l":19.13,"t":"2","v":"ma"},{"c":40,"l":19.13,"t":"2","v":"ma"},{"c":44,"l":19.13,"t":"1","v":"vi"},{"c":45,"l":19.13,"t":"1","v":"vi"},{"c":46,"l":19.13,"t":"1","v":"vi"},{"c":47,"l":19.13,"t":"2","v":"vi"}
],
"labels":[
{"c":-9.86,"l":1.97,"t":"2026-07-22","v":"gr"},{"c":-9.86,"l":2.94,"t":"Local Time","v":"lo"},{"c":-0.36,"l":1.97,"t":"Wednesday, 22","v":"gr"},{"c":22.64,"l":1.97,"t":"Thursday, 23","v":"ye"},{"c":46.57,"l":1.97,"t":"Friday, 24","v":"sa"},{"c":70.57,"l":1.97,"t":"Saturday, 25","v":"ma"},
{"c":-9,"l":4.94,"t":"Cloud Cover:","v":"wh"},{"c":-9,"l":5.94,"t":"ECMWF Cloud:","v":"wh"},{"c":-9,"l":6.94,"t":"Transparency:","v":"wh"},{"c":-9,"l":7.94,"t":"Seeing:","v":"wh"},{"c":-9,"l":8.94,"t":"Darkness:","v":"ol"},
{"c":-9,"l":11.94,"t":"Smoke:","v":"wh"},{"c":-9,"l":12.94,"t":"Wind:","v":"wh"},{"c":-9,"l":13.94,"t":"Humidity:","v":"wh"},{"c":-9,"l":14.94,"t":"Temperature:","v":"wh"},
{"c":-10,"l":17.06,"t":"EXTENDED Forecast. Each block is 3 hours. (A sponsored feature)","v":"rd"},
{"c":-9.86,"l":18.25,"t":"2026-07-25","v":"ma"},{"c":-9.86,"l":19.19,"t":"Local Time","v":"lo"},{"c":3.21,"l":18.25,"t":"Sun, 26","v":"vi"},{"c":11.21,"l":18.25,"t":"Mon, 27","v":"gr"},{"c":19.21,"l":18.25,"t":"Tue, 28","v":"ye"},{"c":27.21,"l":18.25,"t":"Wed, 29","v":"sa"},{"c":35.21,"l":18.25,"t":"Thu, 30","v":"ma"},{"c":43.21,"l":18.25,"t":"Fri, 31","v":"vi"},
{"c":-9,"l":21.19,"t":"Cloud Cover:","v":"wh"},{"c":-9,"l":22.19,"t":"ECMWF Cloud:","v":"wh"},{"c":-9,"l":23.19,"t":"Darkness:","v":"ol"},
{"c":14.43,"l":25.81,"t":"© 2026 Attilla Danko","v":"wh"},{"c":28.64,"l":25.81,"t":"forecast: A.Rahill","v":"wh"},{"c":41.43,"l":25.81,"t":"data:","v":"wh"}
],
"titles":[{"c":16.57,"l":0.56,"t":"Fred Lossing Observatory","v":"ye"},{"c":42.29,"l":0.56,"t":"Clear Sky Chart","v":"cy"}],
"small":[{"c":-9.8,"l":3.75,"t":"(GMT -4+0)","v":"lo"},{"c":-9.8,"l":20,"t":"(GMT -4+0)","v":"lo"}],
"side":[{"c":-9.571,"l":7,"t":"—— Sky ——","v":"ye"},{"c":-9.571,"l":13.5,"t":"- Ground -","v":"wh"},{"c":-9.571,"l":22.25,"t":"- Sky -","v":"ye"}],
"logo":[{"c":48.29,"l":25.625,"t":"Environment","v":"bk"},{"c":48.29,"l":26.06,"t":"Canada","v":"bk"},{"c":52.93,"l":25.625,"t":"Environnement","v":"bk"},{"c":52.93,"l":26.06,"t":"Canada","v":"bk"}],
"leaf":[{"c":46.32,"l":25.81,"v":"red"}]
},
"encoding":{
"x":{"field":"c","type":"quantitative","axis":null,"scale":{"domain":[-10,81.7142857],"nice":false,"zero":false}},
"y":{"field":"l","type":"quantitative","axis":null,"scale":{"domain":[-0.1875,26.3125],"reverse":true,"nice":false,"zero":false}},
"color":{"field":"v","type":"nominal","legend":null,"scale":{
"domain":["A","Z","B","C","D","E","F","G","H","I","J","K","W","w","hX","h1","h2","h3","hO","hY","hL","hG","hT","hN","tY","tO","tD","tR","gr","ye","sa","ma","vi","lo","wh","ol","rd","cy","bk","red","sky","gnd"],
"range":["#003f7f","#0c4a8a","#175595","#2c6cad","#4a8bcb","#5f9fe3","#76b5f8","#7fbdbd","#98d6d6","#b0f6f6","#c0c0c0","#e8e8e8","#ffffff","#fafafa","#83bfbf","#b80000","#e80000","#ff3300","#ff8800","#ffc800","#e8ff12","#9aff66","#5affb0","#00ffe8","#ffdc00","#ff9f00","#ff5a00","#ff2200","#66ff66","#ffff00","#ff7070","#ff00ff","#6a6aff","#c8c800","#ffffff","#8c8c28","#e00000","#00c8c8","#000000","#ff0000","#0058f0","#556b00"]}}
},
"layer":[
{"data":{"name":"panels"},"mark":{"type":"rect"},"encoding":{"x2":{"field":"c2"},"y2":{"field":"l2"}}},
{"data":{"name":"blocks"},"transform":[{"filter":"!test(/^[de][0-9]/, datum.v)"}],"mark":{"type":"rect","width":12,"height":12}},
{"data":{"name":"blocks"},"transform":[{"filter":"datum.v=='d5'"}],"encoding":{"color":null},"mark":{"type":"rect","width":12,"height":12,"fill":{"gradient":"linear","x1":0,"y1":0,"x2":1,"y2":0,"stops":[{"offset":0,"color":"#ffffff"},{"offset":1,"color":"#fff5e8"}]}}},
{"data":{"name":"blocks"},"transform":[{"filter":"datum.v=='d6'"}],"encoding":{"color":null},"mark":{"type":"rect","width":12,"height":12,"fill":{"gradient":"linear","x1":0,"y1":0,"x2":1,"y2":0,"stops":[{"offset":0,"color":"#fff6ea"},{"offset":1,"color":"#ffeedb"}]}}},
{"data":{"name":"blocks"},"transform":[{"filter":"datum.v=='d7'"}],"encoding":{"color":null},"mark":{"type":"rect","width":12,"height":12,"fill":{"gradient":"linear","x1":0,"y1":0,"x2":1,"y2":0,"stops":[{"offset":0,"color":"#ffefd9"},{"offset":1,"color":"#ffe3bd"}]}}},
{"data":{"name":"blocks"},"transform":[{"filter":"datum.v=='d8'"}],"encoding":{"color":null},"mark":{"type":"rect","width":12,"height":12,"fill":{"gradient":"linear","x1":0,"y1":0,"x2":1,"y2":0,"stops":[{"offset":0,"color":"#ffe2b5"},{"offset":1,"color":"#ffc778"}]}}},
{"data":{"name":"blocks"},"transform":[{"filter":"datum.v=='d9'"}],"encoding":{"color":null},"mark":{"type":"rect","width":12,"height":12,"fill":{"gradient":"linear","x1":0,"y1":0,"x2":1,"y2":0,"stops":[{"offset":0,"color":"#ffc060"},{"offset":0.42,"color":"#ffa000"},{"offset":0.42,"color":"#00c0ff"},{"offset":0.58,"color":"#00c0ff"},{"offset":0.58,"color":"#0078e8"},{"offset":1,"color":"#0070e8"}]}}},
{"data":{"name":"blocks"},"transform":[{"filter":"datum.v=='d10'"}],"encoding":{"color":null},"mark":{"type":"rect","width":12,"height":12,"fill":{"gradient":"linear","x1":0,"y1":0,"x2":1,"y2":0,"stops":[{"offset":0,"color":"#0064e4"},{"offset":1,"color":"#005adc"}]}}},
{"data":{"name":"blocks"},"transform":[{"filter":"datum.v=='d11'"}],"encoding":{"color":null},"mark":{"type":"rect","width":12,"height":12,"fill":{"gradient":"linear","x1":0,"y1":0,"x2":1,"y2":0,"stops":[{"offset":0,"color":"#0058e0"},{"offset":0.5,"color":"#001aa8"},{"offset":1,"color":"#000a90"}]}}},
{"data":{"name":"blocks"},"transform":[{"filter":"datum.v=='d12'"}],"encoding":{"color":null},"mark":{"type":"rect","width":12,"height":12,"fill":{"gradient":"linear","x1":0,"y1":0,"x2":1,"y2":0,"stops":[{"offset":0,"color":"#000c98"},{"offset":1,"color":"#00087c"}]}}},
{"data":{"name":"blocks"},"transform":[{"filter":"datum.v=='d13'"}],"encoding":{"color":null},"mark":{"type":"rect","width":12,"height":12,"fill":{"gradient":"linear","x1":0,"y1":0,"x2":1,"y2":0,"stops":[{"offset":0,"color":"#00006a"},{"offset":1,"color":"#000060"}]}}},
{"data":{"name":"blocks"},"transform":[{"filter":"datum.v=='d14'"}],"encoding":{"color":null},"mark":{"type":"rect","width":12,"height":12,"fill":{"gradient":"linear","x1":0,"y1":0,"x2":1,"y2":0,"stops":[{"offset":0,"color":"#000058"},{"offset":1,"color":"#000050"}]}}},
{"data":{"name":"blocks"},"transform":[{"filter":"datum.v=='d15'"}],"encoding":{"color":null},"mark":{"type":"rect","width":12,"height":12,"fill":{"gradient":"linear","x1":0,"y1":0,"x2":1,"y2":0,"stops":[{"offset":0,"color":"#00004c"},{"offset":1,"color":"#000048"}]}}},
{"data":{"name":"blocks"},"transform":[{"filter":"datum.v=='d16'"}],"encoding":{"color":null},"mark":{"type":"rect","width":12,"height":12,"fill":{"gradient":"linear","x1":0,"y1":0,"x2":1,"y2":0,"stops":[{"offset":0,"color":"#000050"},{"offset":0.5,"color":"#000066"},{"offset":1,"color":"#000090"}]}}},
{"data":{"name":"blocks"},"transform":[{"filter":"datum.v=='d17'"}],"encoding":{"color":null},"mark":{"type":"rect","width":12,"height":12,"fill":{"gradient":"linear","x1":0,"y1":0,"x2":1,"y2":0,"stops":[{"offset":0,"color":"#0018a8"},{"offset":1,"color":"#0040d0"}]}}},
{"data":{"name":"blocks"},"transform":[{"filter":"datum.v=='d18'"}],"encoding":{"color":null},"mark":{"type":"rect","width":12,"height":12,"fill":{"gradient":"linear","x1":0,"y1":0,"x2":1,"y2":0,"stops":[{"offset":0,"color":"#0058e0"},{"offset":0.8,"color":"#0060e8"},{"offset":0.8,"color":"#00a8ff"},{"offset":1,"color":"#00b0ff"}]}}},
{"data":{"name":"blocks"},"transform":[{"filter":"datum.v=='d19'"}],"encoding":{"color":null},"mark":{"type":"rect","width":12,"height":12,"fill":{"gradient":"linear","x1":0,"y1":0,"x2":1,"y2":0,"stops":[{"offset":0,"color":"#ffb030"},{"offset":1,"color":"#ffd080"}]}}},
{"data":{"name":"blocks"},"transform":[{"filter":"datum.v=='d20'"}],"encoding":{"color":null},"mark":{"type":"rect","width":12,"height":12,"fill":{"gradient":"linear","x1":0,"y1":0,"x2":1,"y2":0,"stops":[{"offset":0,"color":"#ffdeb0"},{"offset":1,"color":"#ffeed5"}]}}},
{"data":{"name":"blocks"},"transform":[{"filter":"datum.v=='d21'"}],"encoding":{"color":null},"mark":{"type":"rect","width":12,"height":12,"fill":{"gradient":"linear","x1":0,"y1":0,"x2":1,"y2":0,"stops":[{"offset":0,"color":"#ffefdb"},{"offset":1,"color":"#fff5ea"}]}}},
{"data":{"name":"blocks"},"transform":[{"filter":"datum.v=='d22'"}],"encoding":{"color":null},"mark":{"type":"rect","width":12,"height":12,"fill":{"gradient":"linear","x1":0,"y1":0,"x2":1,"y2":0,"stops":[{"offset":0,"color":"#fff6ec"},{"offset":1,"color":"#fffdf8"}]}}},
{"data":{"name":"blocks"},"transform":[{"filter":"datum.v=='e0'"}],"encoding":{"color":null},"mark":{"type":"rect","width":12,"height":12,"fill":{"gradient":"linear","x1":0,"y1":0,"x2":1,"y2":0,"stops":[{"offset":0,"color":"#0038c8"},{"offset":1,"color":"#000a90"}]}}},
{"data":{"name":"blocks"},"transform":[{"filter":"datum.v=='e1'"}],"encoding":{"color":null},"mark":{"type":"rect","width":12,"height":12,"fill":{"gradient":"linear","x1":0,"y1":0,"x2":1,"y2":0,"stops":[{"offset":0,"color":"#00086c"},{"offset":0.6,"color":"#000070"},{"offset":1,"color":"#0040d0"}]}}},
{"data":{"name":"blocks"},"transform":[{"filter":"datum.v=='e2'"}],"encoding":{"color":null},"mark":{"type":"rect","width":12,"height":12,"fill":{"gradient":"linear","x1":0,"y1":0,"x2":1,"y2":0,"stops":[{"offset":0,"color":"#0058e0"},{"offset":0.25,"color":"#0070e8"},{"offset":0.25,"color":"#00c0ff"},{"offset":0.5,"color":"#00c0ff"},{"offset":0.5,"color":"#ffa000"},{"offset":0.7,"color":"#ffb040"},{"offset":1,"color":"#ffd080"}]}}},
{"data":{"name":"blocks"},"transform":[{"filter":"datum.v=='e3'"}],"encoding":{"color":null},"mark":{"type":"rect","width":12,"height":12,"fill":{"gradient":"linear","x1":0,"y1":0,"x2":1,"y2":0,"stops":[{"offset":0,"color":"#ffe6c8"},{"offset":1,"color":"#ffffff"}]}}},
{"data":{"name":"blocks"},"transform":[{"filter":"datum.v=='e6'"}],"encoding":{"color":null},"mark":{"type":"rect","width":12,"height":12,"fill":{"gradient":"linear","x1":0,"y1":0,"x2":1,"y2":0,"stops":[{"offset":0,"color":"#fff0dc"},{"offset":1,"color":"#ffc880"}]}}},
{"data":{"name":"blocks"},"transform":[{"filter":"datum.v=='e7'"}],"encoding":{"color":null},"mark":{"type":"rect","width":12,"height":12,"fill":{"gradient":"linear","x1":0,"y1":0,"x2":1,"y2":0,"stops":[{"offset":0,"color":"#ffb040"},{"offset":0.3,"color":"#ffa000"},{"offset":0.3,"color":"#00c0ff"},{"offset":0.5,"color":"#00c0ff"},{"offset":0.5,"color":"#0078e8"},{"offset":1,"color":"#0060e0"}]}}},
{"data":{"name":"blocks"},"transform":[{"filter":"datum.v=='e8'"}],"encoding":{"color":null},"mark":{"type":"rect","width":12,"height":12,"fill":{"gradient":"linear","x1":0,"y1":0,"x2":1,"y2":0,"stops":[{"offset":0,"color":"#0060e0"},{"offset":1,"color":"#0040d0"}]}}},
{"data":{"name":"blocks"},"transform":[{"filter":"datum.v=='e9'"}],"encoding":{"color":null},"mark":{"type":"rect","width":12,"height":12,"fill":{"gradient":"linear","x1":0,"y1":0,"x2":1,"y2":0,"stops":[{"offset":0,"color":"#0038c8"},{"offset":1,"color":"#0010a0"}]}}},
{"data":{"name":"blocks"},"transform":[{"filter":"datum.v=='e24'"}],"encoding":{"color":null},"mark":{"type":"rect","width":12,"height":12,"fill":{"gradient":"linear","x1":0,"y1":0,"x2":1,"y2":0,"stops":[{"offset":0,"color":"#0066e4"},{"offset":1,"color":"#0054dc"}]}}},
{"data":{"name":"blocks"},"transform":[{"filter":"datum.v=='e25'"}],"encoding":{"color":null},"mark":{"type":"rect","width":12,"height":12,"fill":{"gradient":"linear","x1":0,"y1":0,"x2":1,"y2":0,"stops":[{"offset":0,"color":"#0058e0"},{"offset":1,"color":"#0030c0"}]}}},
{"data":{"name":"joins"},"mark":{"type":"rect","width":2,"height":6}},
{"data":{"name":"rules"},"mark":{"type":"rule","strokeWidth":2},"encoding":{"y2":{"field":"l2"}}},
{"data":{"name":"digits"},"mark":{"type":"text","font":"Liberation Mono","fontSize":15,"align":"center","baseline":"middle"},"encoding":{"text":{"field":"t"}}},
{"data":{"name":"labels"},"mark":{"type":"text","font":"Liberation Mono","fontSize":15,"align":"left","baseline":"middle","dy":-1.5},"encoding":{"text":{"field":"t"}}},
{"data":{"name":"titles"},"mark":{"type":"text","font":"Liberation Mono","fontSize":20,"fontWeight":"bold","align":"left","baseline":"middle"},"encoding":{"text":{"field":"t"}}},
{"data":{"name":"small"},"mark":{"type":"text","font":"Liberation Mono","fontSize":8,"align":"left","baseline":"middle"},"encoding":{"text":{"field":"t"}}},
{"data":{"name":"side"},"mark":{"type":"text","font":"Liberation Mono","fontSize":10,"align":"center","baseline":"middle","angle":270},"encoding":{"text":{"field":"t"}}},
{"data":{"name":"logo"},"mark":{"type":"text","font":"Liberation Mono","fontSize":7.5,"align":"left","baseline":"middle"},"encoding":{"text":{"field":"t"}}},
{"data":{"name":"leaf"},"mark":{"type":"point","filled":true,"opacity":1,"size":70,"shape":"M0,-1 L.3,-.4 L.7,-.5 L.5,0 L.9,.1 L.2,.5 L.1,1 L-.1,1 L-.2,.5 L-.9,.1 L-.5,0 L-.7,-.5 L-.3,-.4 Z"}}
]}
